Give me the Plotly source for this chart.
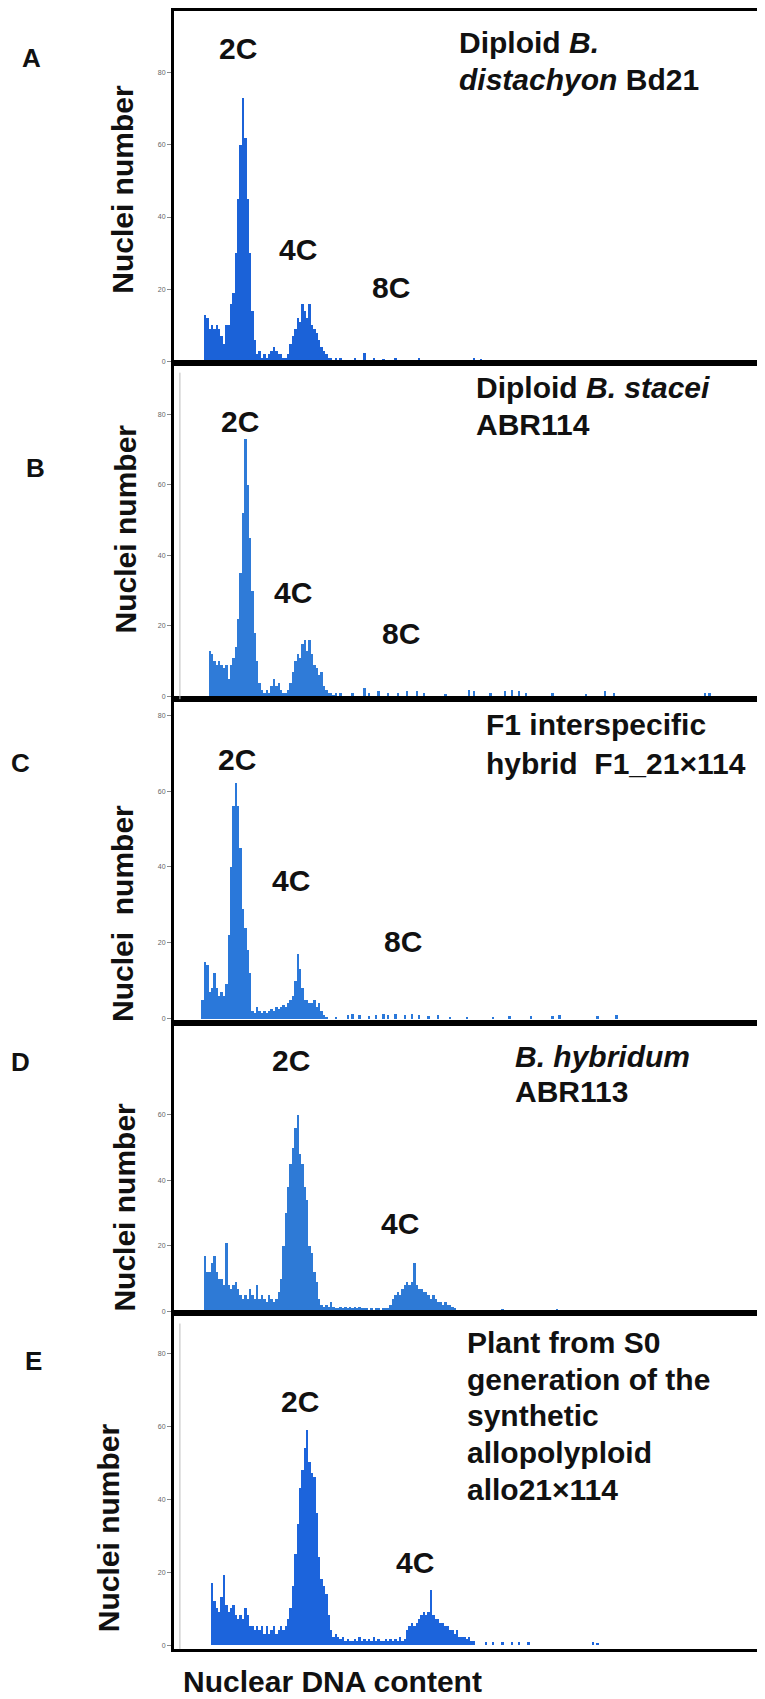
import plotly.graph_objects as go

W, H = 765, 1699

# ---------------- data (channel bins of width 2, nuclei counts) ----------------
A_start = 26
A_counts = [13, 12, 9, 10, 9, 10, 9, 7, 5, 10, 10, 16, 19, 30, 45, 60, 73, 62, 45, 30,
            14, 6, 2, 3, 1, 2, 1, 2, 3, 4, 3, 2, 2, 1, 1, 2, 5, 7, 9, 12,
            11, 16, 14, 12, 16, 10, 9, 8, 6, 4, 3, 2, 1, 1]
A_tail_ch = [136, 140, 146, 152, 160, 168, 176, 186, 196, 206, 216, 230, 252, 258, 266, 272, 280]
A_tail_cnt = [1, 1, 0.5, 1, 2.5, 1, 0.8, 1, 0.5, 1, 0.5, 0.5, 1, 0.7, 0.5, 0.5, 0.5]

B_start = 30
B_counts = [13, 12, 10, 9, 10, 9, 8, 9, 5, 9, 11, 14, 22, 35, 52, 73, 60, 45, 30, 18,
            10, 4, 2, 1, 2, 1, 3, 5, 3, 4, 2, 1, 1, 2, 4, 7, 10, 12, 11, 15,
            16, 13, 16, 12, 9, 8, 6, 7, 3, 2, 1, 1, 0.5, 1]
B_tail_ch = [140, 150, 160, 164, 172, 180, 188, 196, 204, 210, 228, 248, 252, 266, 278, 284,
             290, 296, 318, 346, 362, 370, 446, 450]
B_tail_cnt = [1, 1, 2.5, 1, 1.5, 1, 1, 1.5, 1.5, 1, 0.8, 2, 1.5, 1, 1.5, 2,
              1.5, 1, 1, 0.7, 1.5, 1, 1, 1]

C_start = 24
C_counts = [5, 15, 14, 7, 8, 12, 8, 6, 7, 6, 9, 22, 40, 56, 62, 56, 45, 29, 24, 18,
            12, 2, 1.5, 3, 2, 1.5, 2, 1.5, 2, 2.5, 2, 3, 2.5, 3, 3.5, 3, 4, 5, 6, 10,
            17, 13, 8, 5, 5, 4, 4, 5, 3, 4, 2, 1, 0.5]
C_tail_ch = [136, 146, 150, 156, 164, 170, 176, 180, 186, 194, 200, 206, 214, 222, 232,
             246, 268, 282, 300, 318, 324, 356, 372]
C_tail_cnt = [0.5, 1, 1.2, 1, 0.8, 1, 1.3, 1, 1.2, 1, 1.3, 1, 0.8, 1, 0.5,
              0.5, 0.5, 0.7, 0.8, 0.8, 1, 0.8, 1]

D_start = 26
D_counts = [17, 12, 12, 15, 17, 12, 10, 10, 8, 21, 8, 7, 8, 9, 7, 5, 4, 5, 4, 7,
            5, 4, 8, 4, 5, 4, 3, 5, 4, 3, 4, 6, 10, 20, 30, 38, 45, 50, 56, 60,
            48, 45, 38, 34, 20, 18, 12, 9, 4, 2, 1.5, 2, 1.5, 3, 1.5, 1, 1, 1.5, 1, 1.5,
            1, 1.5, 1, 1.5, 1, 1.5, 1, 1, 1, 0.5, 1, 0.5, 1, 1, 0.5, 1, 1, 1, 2, 4,
            5, 6, 5, 7, 8, 9, 8, 9, 15, 8, 7, 7, 6, 6, 5, 4, 5, 4, 3, 3,
            2, 3, 2, 2, 1.5, 1, 0.5]
D_tail_ch = [244, 250, 256, 262, 270, 276, 282, 304, 322, 336]
D_tail_cnt = [0.5, 0.6, 0.5, 0.6, 0.5, 0.8, 0.5, 0.5, 0.7, 0.5]

E_start = 32
E_counts = [17, 12, 10, 9, 13, 19, 11, 9, 10, 11, 8, 7, 8, 7, 10, 8, 5, 5, 4, 5,
            4, 5, 3, 5, 3, 4, 5, 3, 4, 5, 4, 5, 7, 10, 16, 25, 33, 43, 48, 54,
            59, 50, 47, 46, 36, 24, 18, 16, 14, 8, 4, 2, 3, 2, 1.5, 2, 1, 1.5, 1, 1,
            1.5, 1, 2, 1, 1.5, 1, 1.5, 1, 2, 1, 1.5, 1, 1, 1.5, 1, 1.5, 1, 1.5, 1, 2,
            1, 1.5, 4, 5, 6, 5, 6, 7, 8, 9, 8, 9, 15, 8, 7, 7, 6, 6, 5, 5,
            4, 4, 3, 4, 2, 2, 2, 1.5, 2, 1, 1]
E_tail_ch = [262, 268, 276, 284, 290, 298, 352, 356]
E_tail_cnt = [0.7, 0.8, 0.6, 0.7, 0.6, 0.7, 0.6, 0.5]

y_ticks_full = [0, 20, 40, 60, 80]
y_ticks_D = [0, 20, 40, 60]

# ---------------- layout helpers ----------------
FONT = "Liberation Sans, Arial, Helvetica, sans-serif"


def px_x(x):
    return x / W


def px_y(y):
    return 1 - y / H


X_LEFT, X_RIGHT = 166, 757
X_RANGE = [0, (X_RIGHT - X_LEFT) / 1.19]

panels = [
    dict(start=A_start, counts=A_counts, tch=A_tail_ch, tcnt=A_tail_cnt, color="#1b62d8",
         top=3, bottom=355, yr=[-0.28, 97], ticks=y_ticks_full, inner=False),
    dict(start=B_start, counts=B_counts, tch=B_tail_ch, tcnt=B_tail_cnt, color="#2f7bd8",
         top=355, bottom=692, yr=[-0.85, 94.6], ticks=y_ticks_full, inner=True),
    dict(start=C_start, counts=C_counts, tch=C_tail_ch, tcnt=C_tail_cnt, color="#2a78da",
         top=692, bottom=1016, yr=[-1.05, 84.2], ticks=y_ticks_full, inner=False),
    dict(start=D_start, counts=D_counts, tch=D_tail_ch, tcnt=D_tail_cnt, color="#2e7ad6",
         top=1016, bottom=1307, yr=[-0.6, 88.1], ticks=y_ticks_D, inner=False),
    dict(start=E_start, counts=E_counts, tch=E_tail_ch, tcnt=E_tail_cnt, color="#1c64dc",
         top=1307, bottom=1643, yr=[-1.1, 91], ticks=y_ticks_full, inner=True),
]

fig = go.Figure()
shapes = []
for i, p in enumerate(panels):
    n = "" if i == 0 else str(i + 1)
    xs = [p["start"] + 2 * k for k in range(len(p["counts"]))] + p["tch"]
    ys = list(p["counts"]) + p["tcnt"]
    fig.add_trace(go.Bar(x=xs, y=ys, width=2, marker=dict(color=p["color"], line=dict(width=0)),
                         xaxis="x" + n, yaxis="y" + n, showlegend=False, hoverinfo="skip"))
    fig.layout["xaxis" + n] = dict(domain=[px_x(X_LEFT), px_x(X_RIGHT)], range=X_RANGE,
                                   anchor="y" + n, showline=True, mirror=True, linecolor="black",
                                   linewidth=3, showticklabels=False, ticks="", showgrid=False,
                                   zeroline=False, fixedrange=True)
    fig.layout["yaxis" + n] = dict(domain=[px_y(p["bottom"]), px_y(p["top"])], range=p["yr"],
                                   anchor="x" + n, showline=True, mirror=True, linecolor="black",
                                   linewidth=3, tickvals=p["ticks"], ticks="outside", ticklen=4,
                                   tickcolor="#888", tickwidth=1,
                                   tickfont=dict(size=7, color="#666", family=FONT),
                                   showgrid=False, zeroline=False, fixedrange=True)
    if p["inner"]:
        # faint original histogram axis line inside the box
        shapes.append(dict(type="line", xref="x" + n + " domain", yref="y" + n + " domain",
                           x0=0.01, x1=0.01, y0=0.0, y1=0.97,
                           line=dict(color="#bbbbbb", width=1)))

annotations = []


def ann(text, x, y, size=30, xanchor="center", angle=0, weight="bold"):
    annotations.append(dict(text=text, x=px_x(x), y=px_y(y), xref="paper", yref="paper",
                            xanchor=xanchor, yanchor="middle", showarrow=False, textangle=angle,
                            font=dict(family=FONT, size=size, color="#111", weight=weight)))


# panel letters
for letter, x, y in [("A", 23, 50), ("B", 27, 461), ("C", 13, 756), ("D", 13, 1055), ("E", 26, 1355)]:
    ann(letter, x, y, size=26)

# y titles
for txt, x, y in [("Nuclei number", 115, 182), ("Nuclei number", 117, 522),
                  ("Nuclei\u00a0 number", 115, 907), ("Nuclei number", 117, 1201),
                  ("Nuclei number", 100, 1522)]:
    ann(txt, x, y, size=30, angle=-90)

# peak labels
for txt, x, y in [("2C", 230, 41), ("4C", 290, 242), ("8C", 383, 280),
                  ("2C", 232, 414), ("4C", 285, 585), ("8C", 393, 626),
                  ("2C", 229, 752), ("4C", 283, 874), ("8C", 395, 935),
                  ("2C", 283, 1054), ("4C", 392, 1217),
                  ("2C", 292, 1395), ("4C", 407, 1556)]:
    ann(txt, x, y, size=30)

# panel descriptions
for txt, x, y in [("Diploid <i>B.</i>", 449, 35), ("<i>distachyon</i> Bd21", 449, 72),
                  ("Diploid <i>B. stacei</i>", 466, 380), ("ABR114", 466, 417),
                  ("F1 interspecific", 476, 717), ("hybrid\u00a0 F1_21\u00d7114", 476, 756),
                  ("<i>B. hybridum</i>", 505, 1050), ("ABR113", 505, 1085),
                  ("Plant from S0", 457, 1336), ("generation of the", 457, 1373),
                  ("synthetic", 457, 1409), ("allopolyploid", 457, 1446),
                  ("allo21\u00d7114", 457, 1483)]:
    ann(txt, x, y, size=30, xanchor="left")

# x title
ann("Nuclear DNA content", 173, 1675, size=30, xanchor="left")

fig.update_layout(width=W, height=H, margin=dict(l=0, r=0, t=0, b=0),
                  paper_bgcolor="white", plot_bgcolor="white", annotations=annotations,
                  shapes=shapes, bargap=0, showlegend=False)

fig.write_html("out.html")
